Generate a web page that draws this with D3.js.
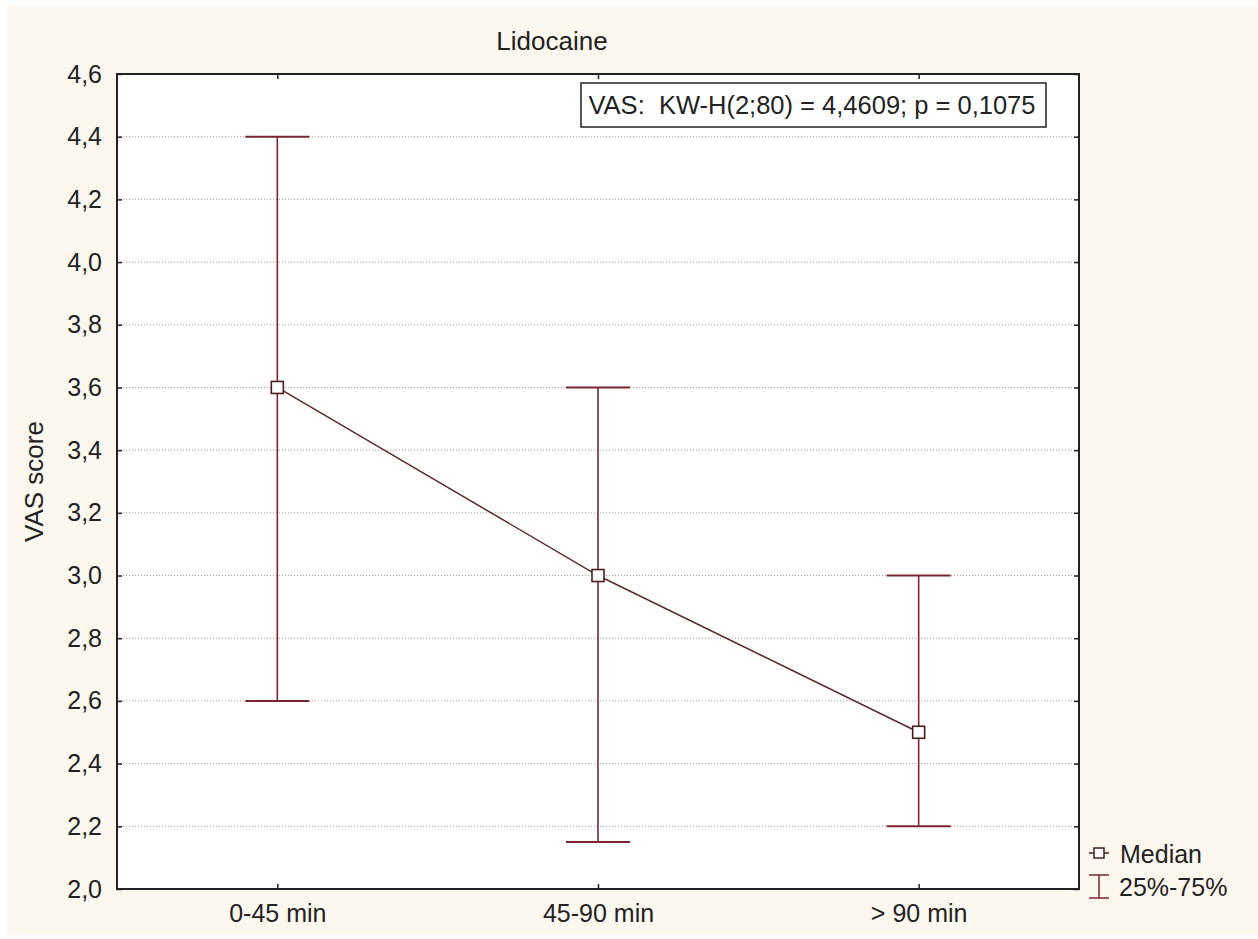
<!DOCTYPE html>
<html>
<head>
<meta charset="utf-8">
<script src="https://d3js.org/d3.v7.min.js"></script>
<style>
  body { margin: 0; background: #fff; }
  text { font-family: "Liberation Sans", Arial, sans-serif; fill: #222; }
</style>
</head>
<body>
<div class="chart"></div>
<script>
var w = 1258;
var h = 939;

// data
var groups = ["0-45 min", "45-90 min", "> 90 min"];
var medians = [3.6, 3.0, 2.5];
var q25 = [2.6, 2.15, 2.2];
var q75 = [4.4, 3.6, 3.0];
var yTicks = [2.0, 2.2, 2.4, 2.6, 2.8, 3.0, 3.2, 3.4, 3.6, 3.8, 4.0, 4.2, 4.4, 4.6];

// plot box (don't call it "top", window.top is taken)
var pLeft = 117, pRight = 1079, pTop = 74, pBottom = 889;
var barColor = "#7b2530";

var svg = d3.select(".chart")
    .append("svg")
    .attr("width", w)
    .attr("height", h);

// cream page background
svg.append("rect")
    .attr("x", 7).attr("y", 6)
    .attr("width", w - 7).attr("height", h - 10)
    .attr("fill", "#fcf8ef");

svg.append("rect")
    .attr("x", pLeft).attr("y", pTop)
    .attr("width", pRight - pLeft).attr("height", pBottom - pTop)
    .attr("fill", "#fff");

var x = d3.scalePoint()
    .domain(groups)
    .range([pLeft, pRight])
    .padding(0.5);

var y = d3.scaleLinear()
    .domain([2.0, 4.6])
    .range([pBottom, pTop]);

var fmt = function(d) { return d3.format(".1f")(d).replace(".", ","); };

// dotted grid
svg.append("g")
    .selectAll("line")
    .data(yTicks.slice(1, -1))
    .enter()
    .append("line")
    .attr("x1", pLeft).attr("x2", pRight)
    .attr("y1", function(d) { return y(d); })
    .attr("y2", function(d) { return y(d); })
    .attr("stroke", "#9a9a9a")
    .attr("stroke-width", 1)
    .attr("stroke-dasharray", "1,2");

// axes (ticks inward)
var yAxisL = svg.append("g")
    .attr("transform", "translate(" + pLeft + ",0)")
    .call(d3.axisLeft(y).tickValues(yTicks).tickFormat(fmt).tickSizeInner(-5).tickSizeOuter(0).tickPadding(15));
var yAxisR = svg.append("g")
    .attr("transform", "translate(" + pRight + ",0)")
    .call(d3.axisRight(y).tickValues(yTicks).tickFormat("").tickSizeInner(-5).tickSizeOuter(0));
var xAxisB = svg.append("g")
    .attr("transform", "translate(0," + pBottom + ")")
    .call(d3.axisBottom(x).tickSizeInner(-5).tickSizeOuter(0).tickPadding(15));
var xAxisT = svg.append("g")
    .attr("transform", "translate(0," + pTop + ")")
    .call(d3.axisTop(x).tickFormat("").tickSizeInner(-5).tickSizeOuter(0));

[yAxisL, yAxisR, xAxisB, xAxisT].forEach(function(a) {
    a.select(".domain").remove();
    a.selectAll("line").attr("stroke", "#222").attr("stroke-width", 1.5);
    a.selectAll("text")
        .style("font-family", "'Liberation Sans', Arial, sans-serif")
        .style("font-size", "25px")
        .attr("fill", "#222");
});

// frame
svg.append("rect")
    .attr("x", pLeft).attr("y", pTop)
    .attr("width", pRight - pLeft).attr("height", pBottom - pTop)
    .attr("fill", "none")
    .attr("stroke", "#222")
    .attr("stroke-width", 2);

// 25%-75% bars
var bars = svg.append("g").selectAll("g")
    .data(groups)
    .enter()
    .append("g");

bars.append("line")
    .attr("x1", function(d) { return x(d); })
    .attr("x2", function(d) { return x(d); })
    .attr("y1", function(d, i) { return y(q25[i]); })
    .attr("y2", function(d, i) { return y(q75[i]); })
    .attr("stroke", barColor).attr("stroke-width", 1.6);

bars.selectAll(".cap")
    .data(function(d, i) { return [q25[i], q75[i]].map(function(v) { return {g: d, v: v}; }); })
    .enter()
    .append("line")
    .attr("class", "cap")
    .attr("x1", function(d) { return x(d.g) - 32; })
    .attr("x2", function(d) { return x(d.g) + 32; })
    .attr("y1", function(d) { return y(d.v); })
    .attr("y2", function(d) { return y(d.v); })
    .attr("stroke", barColor).attr("stroke-width", 2);

// median line
var line = d3.line()
    .x(function(d, i) { return x(groups[i]); })
    .y(function(d) { return y(d); });

svg.append("path")
    .datum(medians)
    .attr("d", line)
    .attr("fill", "none")
    .attr("stroke", "#5a2a2a")
    .attr("stroke-width", 1.5);

svg.append("g").selectAll("rect")
    .data(medians)
    .enter()
    .append("rect")
    .attr("x", function(d, i) { return x(groups[i]) - 6; })
    .attr("y", function(d) { return y(d) - 6; })
    .attr("width", 12).attr("height", 12)
    .attr("fill", "#fff")
    .attr("stroke", "#4a1c20")
    .attr("stroke-width", 1.6);

// title and y label
svg.append("text")
    .attr("x", 552).attr("y", 50)
    .attr("text-anchor", "middle")
    .style("font-size", "26px")
    .text("Lidocaine");

svg.append("text")
    .attr("transform", "translate(43," + ((pTop + pBottom) / 2) + ") rotate(-90)")
    .attr("text-anchor", "middle")
    .style("font-size", "26px")
    .text("VAS score");

// statistics box
svg.append("rect")
    .attr("x", 581).attr("y", 83)
    .attr("width", 465).attr("height", 44)
    .attr("fill", "#fff")
    .attr("stroke", "#222")
    .attr("stroke-width", 1.5);
svg.append("text")
    .attr("x", 812).attr("y", 114)
    .attr("text-anchor", "middle")
    .style("font-size", "25.5px")
    .attr("xml:space", "preserve")
    .text("VAS:  KW-H(2;80) = 4,4609; p = 0,1075");

// legend
var lg = svg.append("g").attr("transform", "translate(1099,0)");
lg.append("rect")
    .attr("x", -5).attr("y", 848)
    .attr("width", 10).attr("height", 10)
    .attr("fill", "#fff").attr("stroke", "#4a1c20").attr("stroke-width", 1.5);
lg.append("line").attr("x1", -10).attr("x2", -5).attr("y1", 853).attr("y2", 853).attr("stroke", "#4a1c20").attr("stroke-width", 1.5);
lg.append("line").attr("x1", 5).attr("x2", 10).attr("y1", 853).attr("y2", 853).attr("stroke", "#4a1c20").attr("stroke-width", 1.5);
lg.append("line").attr("x1", 0).attr("x2", 0).attr("y1", 875).attr("y2", 898).attr("stroke", barColor).attr("stroke-width", 1.5);
lg.append("line").attr("x1", -10).attr("x2", 10).attr("y1", 875).attr("y2", 875).attr("stroke", barColor).attr("stroke-width", 1.5);
lg.append("line").attr("x1", -10).attr("x2", 10).attr("y1", 898).attr("y2", 898).attr("stroke", barColor).attr("stroke-width", 1.5);
lg.append("text").attr("x", 21).attr("y", 863).style("font-size", "25px").text("Median");
lg.append("text").attr("x", 20).attr("y", 896).style("font-size", "25px").text("25%-75%");
</script>
</body>
</html>
